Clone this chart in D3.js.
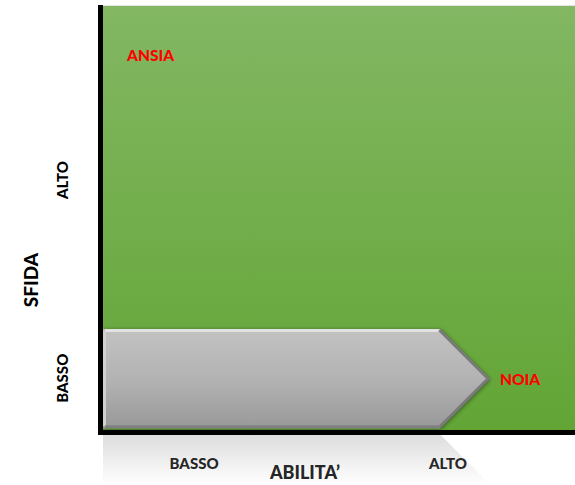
<!DOCTYPE html>
<html><head><meta charset="utf-8">
<script src="https://cdn.jsdelivr.net/npm/d3@7"></script>
<style>body{margin:0;background:#fff}svg{display:block}</style>
</head><body>
<script>
// Data
const xTickLabels = ["BASSO", "ALTO"];
const xTickValues = [0.193, 0.731];
const yTickLabels = ["BASSO", "ALTO"];
const yTickValues = [0.126, 0.59];
const zoneLabels = ["ANSIA", "NOIA"];
const zoneX = [0.051, 0.841];
const zoneY = [0.884, 0.124];
const arrowBody = [0.0, 0.713];   // x start, body end
const arrowTip = [0.818];         // x of tip
const arrowY = [0.009, 0.241];    // bottom, top
const xTitle = "ABILITA’";
const yTitle = "SFIDA";

const W = 575, H = 485;
const x = d3.scaleLinear().domain([0, 1]).range([103, 575]);
const y = d3.scaleLinear().domain([0, 1]).range([432, 5]);

const svg = d3.select("body").append("svg").attr("width", W).attr("height", H);
const defs = svg.append("defs");

const g1 = defs.append("linearGradient").attr("id", "green").attr("x1", 0).attr("y1", 0).attr("x2", 0).attr("y2", 1);
g1.append("stop").attr("offset", 0).attr("stop-color", "#83b763");
g1.append("stop").attr("offset", 1).attr("stop-color", "#62a535");

const g2 = defs.append("linearGradient").attr("id", "gray").attr("x1", 0).attr("y1", 0).attr("x2", 0).attr("y2", 1);
g2.append("stop").attr("offset", 0).attr("stop-color", "#c2c2c2");
g2.append("stop").attr("offset", 0.5).attr("stop-color", "#b3b3b3");
g2.append("stop").attr("offset", 1).attr("stop-color", "#999999");

const g3 = defs.append("linearGradient").attr("id", "refl").attr("x1", 0).attr("y1", 0).attr("x2", 0).attr("y2", 1);
g3.append("stop").attr("offset", 0).attr("stop-color", "#d6d6d6");
g3.append("stop").attr("offset", 1).attr("stop-color", "#ffffff");

const fshadow = defs.append("filter").attr("id", "sh").attr("x", "-10%").attr("y", "-10%").attr("width", "130%").attr("height", "130%");
fshadow.append("feGaussianBlur").attr("in", "SourceAlpha").attr("stdDeviation", 2).attr("result", "b");
fshadow.append("feOffset").attr("dx", 1).attr("dy", 1).attr("result", "o");
fshadow.append("feComponentTransfer").append("feFuncA").attr("type", "linear").attr("slope", 0.5);
const fm = fshadow.append("feMerge");
fm.append("feMergeNode");
fm.append("feMergeNode").attr("in", "SourceGraphic");

// Green plot area
svg.append("rect").attr("x", x(0)).attr("y", y(1)).attr("width", x(1) - x(0)).attr("height", y(0) - y(1))
  .attr("fill", "url(#green)");
svg.append("line").attr("x1", x(0)).attr("x2", x(1)).attr("y1", y(1) + 0.5).attr("y2", y(1) + 0.5)
  .attr("stroke", "#e4e4e4").attr("stroke-width", 1);

// Reflection below the axis
const reflTop = y(0) + 2, reflBot = H;
const reflPts = [[x(arrowBody[0]), reflTop], [x(arrowBody[1]), reflTop],
  [x(arrowBody[1]) + (reflBot - reflTop), reflBot], [x(arrowBody[0]), reflBot]];
svg.append("path").attr("d", d3.line()(reflPts)).attr("fill", "url(#refl)").attr("opacity", 0.85);

// Arrow
const yMid = (y(arrowY[0]) + y(arrowY[1])) / 2;
const arrowPts = [[x(arrowBody[0]), y(arrowY[1])], [x(arrowBody[1]), y(arrowY[1])],
  [x(arrowTip[0]), yMid], [x(arrowBody[1]), y(arrowY[0])], [x(arrowBody[0]), y(arrowY[0])]];
svg.append("path").attr("d", d3.line()(arrowPts) + "Z").attr("fill", "url(#gray)")
  .attr("filter", "url(#sh)");
// bevel highlights
svg.append("path").attr("d", d3.line()([[x(arrowBody[0]) + 2, y(arrowY[1]) + 1.5], [x(arrowBody[1]) - 1, y(arrowY[1]) + 1.5]]))
  .attr("stroke", "#e2e2e2").attr("stroke-width", 3);
svg.append("path").attr("d", d3.line()([[x(arrowBody[0]) + 1.5, y(arrowY[1]) + 2], [x(arrowBody[0]) + 1.5, y(arrowY[0]) - 2]]))
  .attr("stroke", "#d0d0d0").attr("stroke-width", 3);
svg.append("path").attr("d", d3.line()([[x(arrowBody[1]), y(arrowY[1]) + 1], [x(arrowTip[0]) - 1, yMid], [x(arrowBody[1]), y(arrowY[0]) - 1]]))
  .attr("stroke", "#7a7a7a").attr("stroke-width", 3).attr("fill", "none");
svg.append("path").attr("d", d3.line()([[x(arrowBody[0]) + 2, y(arrowY[0]) - 1.5], [x(arrowBody[1]), y(arrowY[0]) - 1.5]]))
  .attr("stroke", "#808080").attr("stroke-width", 3);

// Axes lines
svg.append("line").attr("x1", x(0) - 2.5).attr("x2", x(0) - 2.5).attr("y1", y(1)).attr("y2", y(0) + 3)
  .attr("stroke", "#000").attr("stroke-width", 5);
svg.append("line").attr("x1", x(0) - 5).attr("x2", x(1)).attr("y1", y(0) + 0.5).attr("y2", y(0) + 0.5)
  .attr("stroke", "#000").attr("stroke-width", 5);

const font = "Lato, 'Open Sans', sans-serif";

// Zone labels
svg.selectAll("text.zone").data(zoneLabels).join("text").attr("class", "zone")
  .attr("x", (d, i) => x(zoneX[i])).attr("y", (d, i) => y(zoneY[i]))
  .attr("dominant-baseline", "central")
  .attr("font-family", font).attr("font-weight", 900).attr("font-size", 15.5)
  .attr("fill", "#ff0000").text(d => d);

// X tick labels
svg.selectAll("text.xt").data(xTickLabels).join("text").attr("class", "xt")
  .attr("x", (d, i) => x(xTickValues[i])).attr("y", 463).attr("text-anchor", "middle")
  .attr("dominant-baseline", "central")
  .attr("font-family", font).attr("font-weight", 900).attr("font-size", 15)
  .attr("fill", "#262626").text(d => d);

// Y tick labels
svg.selectAll("text.yt").data(yTickLabels).join("text").attr("class", "yt")
  .attr("transform", (d, i) => `translate(62,${y(yTickValues[i])}) rotate(-90)`)
  .attr("text-anchor", "middle").attr("dominant-baseline", "central")
  .attr("font-family", font).attr("font-weight", 900).attr("font-size", 15)
  .attr("fill", "#000").text(d => d);

// Titles
svg.append("text").attr("x", 305).attr("y", 472).attr("text-anchor", "middle")
  .attr("dominant-baseline", "central")
  .attr("font-family", font).attr("font-weight", 900).attr("font-size", 18)
  .attr("fill", "#262626").text(xTitle);
svg.append("text").attr("transform", "translate(30,280) rotate(-90)")
  .attr("text-anchor", "middle").attr("dominant-baseline", "central")
  .attr("font-family", font).attr("font-weight", 900).attr("font-size", 19)
  .attr("fill", "#000").text(yTitle);
</script>
</body></html>
